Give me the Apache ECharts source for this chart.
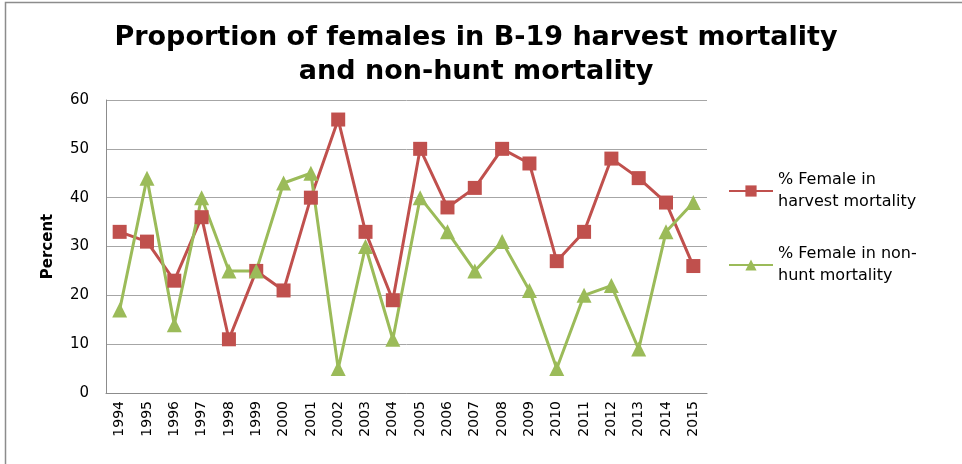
<!DOCTYPE html>
<html>
<head>
<meta charset="utf-8">
<script src="https://cdn.jsdelivr.net/npm/echarts@6/dist/echarts.min.js"></script>
<style>
  html, body { margin: 0; padding: 0; background: #fff; }
  #chart { width: 962px; height: 464px; }
</style>
</head>
<body>
<div id="chart"></div>
<script>
// 数据
const years = ['1994', '1995', '1996', '1997', '1998', '1999', '2000', '2001', '2002', '2003', '2004',
  '2005', '2006', '2007', '2008', '2009', '2010', '2011', '2012', '2013', '2014', '2015']
const harvest = [33, 31, 23, 36, 11, 25, 21, 40, 56, 33, 19, 50, 38, 42, 50, 47, 27, 33, 48, 44, 39, 26]
const nonHunt = [17, 44, 14, 40, 25, 25, 43, 45, 5, 30, 11, 40, 33, 25, 31, 21, 5, 20, 22, 9, 33, 39]
const yTicks = [0, 10, 20, 30, 40, 50, 60]

const chart = echarts.init(document.getElementById('chart'))

const options = {
  backgroundColor: '#fff',
  animation: false,
  title: {
    text: 'Proportion of females in B-19 harvest mortality\nand non-hunt mortality',
    left: 471,
    top: 16,
    textAlign: 'center',
    textStyle: {
      fontFamily: 'DejaVu Sans',
      fontSize: 27,
      fontWeight: 'bold',
      color: '#000',
      lineHeight: 34
    }
  },
  legend: {
    orient: 'vertical',
    left: 723,
    top: 164,
    itemWidth: 44,
    itemHeight: 14,
    itemGap: 30,
    textStyle: {
      fontFamily: 'DejaVu Sans',
      fontSize: 16,
      color: '#000',
      lineHeight: 22
    },
    formatter: function (name) {
      return name === 'h' ? '% Female in\nharvest mortality' : '% Female in non-\nhunt mortality'
    }
  },
  grid: {
    left: 106,
    right: 255,
    top: 100,
    bottom: 71
  },
  xAxis: {
    type: 'category',
    data: years,
    boundaryGap: true,
    axisLine: { lineStyle: { color: '#8c8c8c', width: 1 } },
    axisTick: { show: false },
    axisLabel: {
      rotate: 90,
      interval: 0,
      fontFamily: 'DejaVu Sans',
      fontSize: 14,
      color: '#000',
      margin: 8
    }
  },
  yAxis: {
    type: 'value',
    min: yTicks[0],
    max: yTicks[yTicks.length - 1],
    interval: 10,
    name: 'Percent',
    nameLocation: 'middle',
    nameGap: 50,
    nameTextStyle: {
      fontFamily: 'DejaVu Sans',
      fontSize: 15,
      fontWeight: 'bold',
      color: '#000'
    },
    axisLine: { show: true, lineStyle: { color: '#8c8c8c', width: 1 } },
    axisTick: { show: false },
    splitLine: { lineStyle: { color: '#a6a6a6', width: 1 } },
    axisLabel: {
      fontFamily: 'DejaVu Sans',
      fontSize: 15,
      color: '#000',
      margin: 17
    }
  },
  series: [
    {
      name: 'h',
      type: 'line',
      data: harvest,
      symbol: 'rect',
      symbolSize: 14,
      lineStyle: { color: '#c0504d', width: 3 },
      itemStyle: { color: '#c0504d' }
    },
    {
      name: 'n',
      type: 'line',
      data: nonHunt,
      symbol: 'triangle',
      symbolSize: 15,
      lineStyle: { color: '#9bbb59', width: 3 },
      itemStyle: { color: '#9bbb59' }
    }
  ],
  graphic: [
    {
      type: 'polyline',
      shape: { points: [[5.5, 470], [5.5, 2.5], [970, 2.5]] },
      style: { fill: 'none', stroke: '#8c8c8c', lineWidth: 1.5 },
      silent: true
    }
  ]
}

chart.setOption(options)
</script>
</body>
</html>
